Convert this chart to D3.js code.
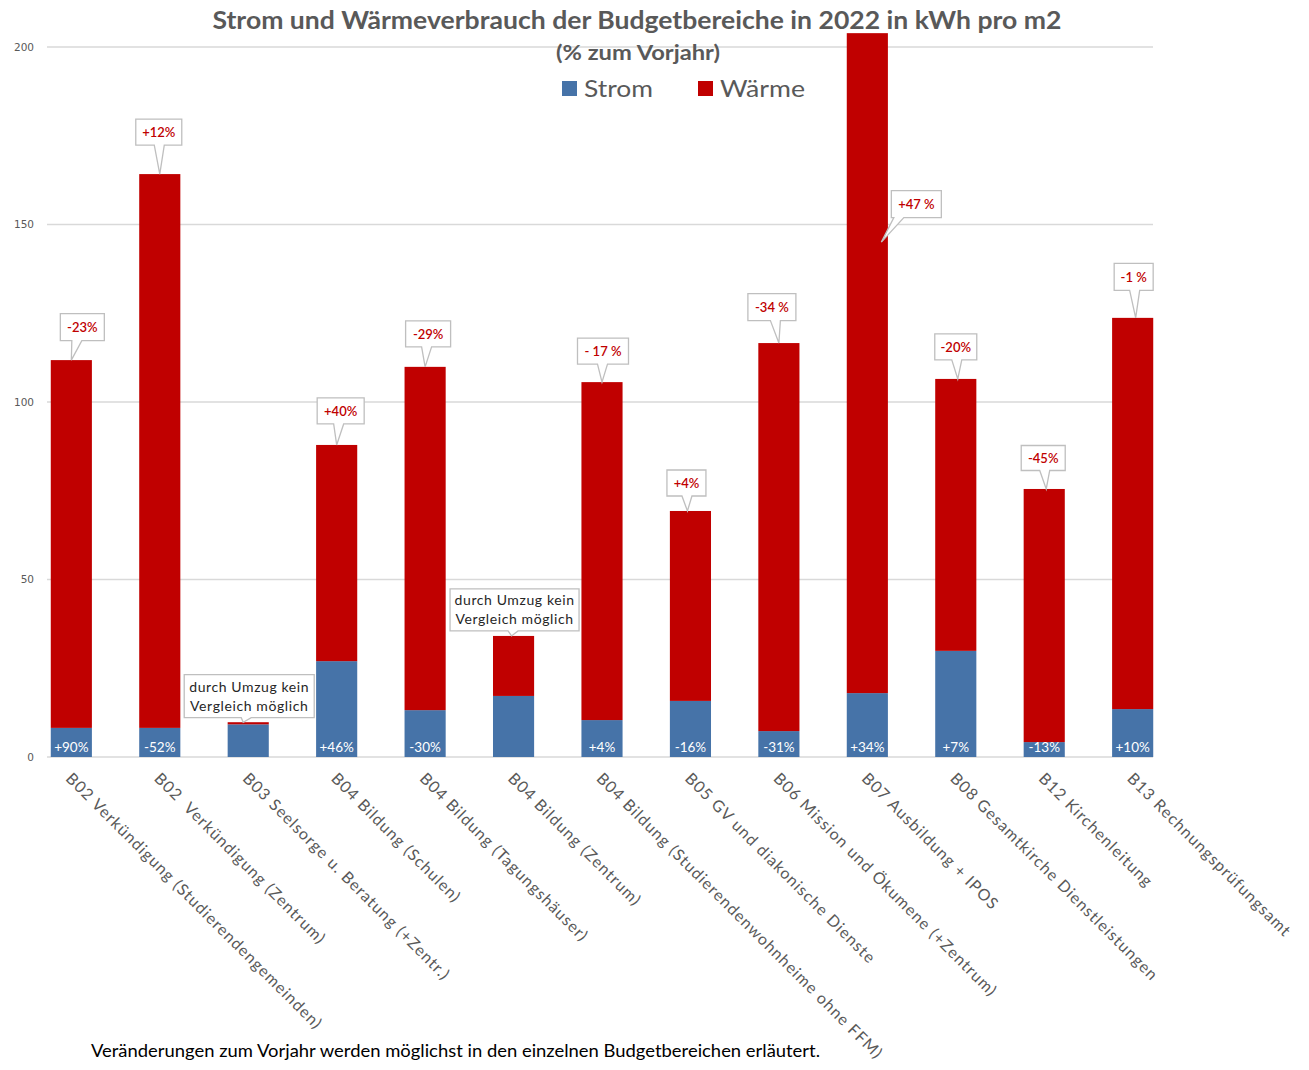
<!DOCTYPE html>
<html>
<head>
<meta charset="utf-8">
<script src="https://cdn.jsdelivr.net/npm/d3@7"></script>
<style>
  html, body { margin: 0; padding: 0; background: #fff; }
  svg { display: block; }
</style>
</head>
<body>
<svg id="chart" width="1309" height="1070"></svg>
<script>
// --- data (kWh pro m2) ---
const categories = [
  'B02 Verkündigung (Studierendengemeinden)',
  'B02  Verkündigung (Zentrum)',
  'B03 Seelsorge u. Beratung (+Zentr.)',
  'B04 Bildung (Schulen)',
  'B04 Bildung (Tagungshäuser)',
  'B04 Bildung (Zentrum)',
  'B04 Bildung (Studierendenwohnheime ohne FFM)',
  'B05 GV und diakonische Dienste',
  'B06 Mission und Ökumene (+Zentrum)',
  'B07 Ausbildung + IPOS',
  'B08 Gesamtkirche Dienstleistungen',
  'B12 Kirchenleitung',
  'B13 Rechnungsprüfungsamt'
];
const strom  = [8.2, 8.2, 9.2, 27.0, 13.2, 17.2, 10.4, 15.8, 7.3, 18.0, 29.9, 4.2, 13.5];
const waerme = [103.6, 156.0, 0.6, 60.9, 96.7, 16.9, 95.2, 53.5, 109.3, 185.9, 76.6, 71.3, 110.2];
const stromChange = ['+90%', '-52%', '', '+46%', '-30%', '', '+4%', '-16%', '-31%', '+34%', '+7%', '-13%', '+10%'];
const waermeChange = ['-23%', '+12%', 'durch Umzug kein|Vergleich möglich', '+40%', '-29%',
  'durch Umzug kein|Vergleich möglich', '- 17 %', '+4%', '-34 %', '+47 %', '-20%', '-45%', '-1 %'];
const yTicks = [0, 50, 100, 150, 200];
const seriesNames = ['Strom', 'Wärme'];

// callout placement relative to the bar top (layout only)
const calloutLayout = [
  { tipDx: 0,  tipDy: 0,   dx: 11, dy: -33, w: 44,  h: 27 },
  { tipDx: 0,  tipDy: 0,   dx: -1, dy: -42, w: 46,  h: 26 },
  { tipDx: -5, tipDy: 0,   dx: 6,  dy: -26, w: 130, h: 43 },
  { tipDx: 0,  tipDy: 0,   dx: 4,  dy: -34, w: 47,  h: 26 },
  { tipDx: 0,  tipDy: 0,   dx: 3,  dy: -33, w: 45,  h: 26 },
  { tipDx: -2, tipDy: 0,   dx: 3,  dy: -26, w: 129, h: 42 },
  { tipDx: 0,  tipDy: 0,   dx: 1,  dy: -31, w: 51,  h: 26 },
  { tipDx: -3, tipDy: 0,   dx: -1, dy: -28, w: 39,  h: 26 },
  { tipDx: 0,  tipDy: 0,   dx: -7, dy: -36, w: 48,  h: 27 },
  { tipDx: 14, tipDy: 209, dx: 35, dy: -38, w: 50,  h: 27 },
  { tipDx: 2,  tipDy: 0,   dx: -2, dy: -32, w: 42,  h: 26 },
  { tipDx: 2,  tipDy: 0,   dx: -3, dy: -31, w: 44,  h: 25 },
  { tipDx: 3,  tipDy: 0,   dx: -2, dy: -41, w: 39,  h: 27 }
];

const colors = { Strom: '#4673a8', 'Wärme': '#c00000' };
const textGray = '#595959';
const gridGray = '#d9d9d9';
const font = 'Lato, "Open Sans", sans-serif';

const svg = d3.select('#chart');

const x = d3.scaleBand()
  .domain(categories)
  .range([49, 1155])
  .paddingInner(0.535)
  .paddingOuter(0.02);

const y = d3.scaleLinear().domain([0, 200]).range([757, 47]);

// gridlines
svg.append('g')
  .selectAll('line')
  .data(yTicks)
  .join('line')
  .attr('x1', 47).attr('x2', 1153)
  .attr('y1', d => y(d)).attr('y2', d => y(d))
  .attr('stroke', gridGray).attr('stroke-width', 1.3);

// y axis labels
const yAxis = svg.append('g')
  .attr('transform', `translate(34,0)`)
  .call(d3.axisLeft(y).tickValues(yTicks).tickSize(0).tickPadding(0));
yAxis.select('.domain').remove();
yAxis.selectAll('text')
  .attr('font-family', '"DejaVu Sans", Verdana, sans-serif')
  .attr('font-size', 10.5)
  .attr('fill', textGray);

// stacked bars
const rows = categories.map((c, i) => ({ cat: c, Strom: strom[i], 'Wärme': waerme[i] }));
const stacked = d3.stack().keys(seriesNames)(rows);

svg.append('g')
  .selectAll('g')
  .data(stacked)
  .join('g')
  .attr('fill', d => colors[d.key])
  .selectAll('rect')
  .data(d => d)
  .join('rect')
  .attr('x', d => x(d.data.cat))
  .attr('width', x.bandwidth())
  .attr('y', d => y(d[1]))
  .attr('height', d => y(d[0]) - y(d[1]));

// Strom change labels inside the blue bars
svg.append('g')
  .selectAll('text')
  .data(categories)
  .join('text')
  .attr('x', d => x(d) + x.bandwidth() / 2)
  .attr('y', y(0) - 5)
  .attr('text-anchor', 'middle')
  .attr('font-family', font)
  .attr('font-size', 13.5)
  .attr('fill', '#fff')
  .text((d, i) => stromChange[i]);

// Wärme change callouts
const callouts = svg.append('g');
categories.forEach((c, i) => {
  const L = calloutLayout[i];
  const tx = x(c) + x.bandwidth() / 2 + L.tipDx;
  const ty = y(strom[i] + waerme[i]) + L.tipDy;
  const cx = tx + L.dx, cy = ty + L.dy;
  const x0 = cx - L.w / 2, x1 = cx + L.w / 2;
  const y0 = cy - L.h / 2, y1 = cy + L.h / 2;
  let mid = cx + (tx - cx) * 0.5;
  mid = Math.max(x0 + 6, Math.min(x1 - 6, mid));
  const b1 = mid - 5, b2 = mid + 5;
  const path = `M${x0},${y0}H${x1}V${y1}H${b2}L${tx},${ty}L${b1},${y1}H${x0}Z`;
  callouts.append('path')
    .attr('d', path)
    .attr('fill', '#fff')
    .attr('stroke', '#bfbfbf')
    .attr('stroke-width', 1.3);
  const lines = waermeChange[i].split('|');
  const isNote = lines.length > 1;
  const t = callouts.append('text')
    .attr('text-anchor', 'middle')
    .attr('font-family', font)
    .attr('font-size', isNote ? 14 : 13)
    .attr('letter-spacing', isNote ? 0.6 : 0)
    .attr('font-weight', isNote ? 400 : 600)
    .attr('fill', isNote ? '#262626' : '#c00000');
  lines.forEach((ln, k) => {
    t.append('tspan')
      .attr('x', cx)
      .attr('y', cy + (k - (lines.length - 1) / 2) * 19 + 5)
      .text(ln);
  });
});

// x axis category labels, rotated 45°
svg.append('g')
  .selectAll('text')
  .data(categories)
  .join('text')
  .attr('transform', d => `translate(${x(d) + x.bandwidth() / 2 + 2},${771}) rotate(45)`)
  .attr('dy', '0.75em')
  .attr('font-family', font)
  .attr('font-size', 16)
  .attr('letter-spacing', 1.05)
  .attr('fill', textGray)
  .attr('xml:space', 'preserve')
  .style('white-space', 'pre')
  .text(d => d);

// title
svg.append('text')
  .attr('x', 637).attr('y', 29)
  .attr('text-anchor', 'middle')
  .attr('font-family', font)
  .attr('font-weight', 700)
  .attr('font-size', 24)
  .attr('textLength', 849)
  .attr('lengthAdjust', 'spacingAndGlyphs')
  .attr('fill', textGray)
  .text('Strom und Wärmeverbrauch der Budgetbereiche in 2022 in kWh pro m2');

svg.append('text')
  .attr('x', 638).attr('y', 60)
  .attr('text-anchor', 'middle')
  .attr('font-family', font)
  .attr('font-weight', 700)
  .attr('font-size', 21)
  .attr('textLength', 164)
  .attr('lengthAdjust', 'spacingAndGlyphs')
  .attr('fill', textGray)
  .text('(% zum Vorjahr)');

// legend
const legendWidths = { Strom: 69, 'Wärme': 85 };
const legend = svg.append('g')
  .selectAll('g')
  .data(seriesNames)
  .join('g')
  .attr('transform', (d, i) => `translate(${562 + i * 136},81)`);
legend.append('rect')
  .attr('width', 15).attr('height', 15)
  .attr('fill', d => colors[d]);
legend.append('text')
  .attr('x', 22).attr('y', 16)
  .attr('font-family', font)
  .attr('font-size', 24)
  .attr('textLength', d => legendWidths[d])
  .attr('lengthAdjust', 'spacingAndGlyphs')
  .attr('fill', textGray)
  .text(d => d);

// footnote
svg.append('text')
  .attr('x', 91).attr('y', 1057)
  .attr('font-family', font)
  .attr('font-size', 16.5)
  .attr('textLength', 729)
  .attr('lengthAdjust', 'spacingAndGlyphs')
  .attr('fill', '#000')
  .text('Veränderungen zum Vorjahr werden möglichst in den einzelnen Budgetbereichen erläutert.');
</script>
</body>
</html>
